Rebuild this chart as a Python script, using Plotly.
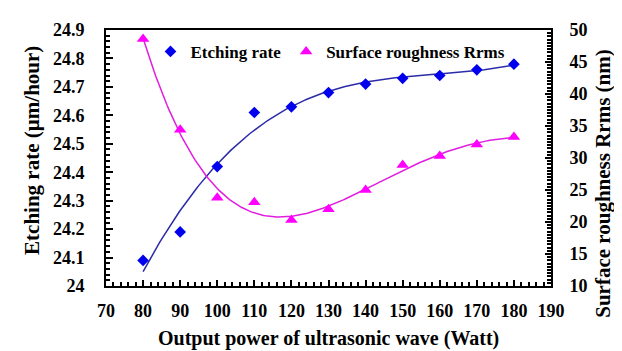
import numpy as np
import plotly.graph_objects as go

power = [80, 90, 100, 110, 120, 130, 140, 150, 160, 170, 180]
etching_rate = [24.09, 24.19, 24.42, 24.61, 24.63, 24.68, 24.71, 24.73, 24.74, 24.76, 24.78]
roughness = [48.6, 34.4, 23.8, 23.1, 20.3, 22.0, 25.0, 28.9, 30.3, 32.1, 33.3]

xs = np.linspace(80, 180, 201)
etch_fit = np.polyval(np.polyfit(power, etching_rate, 3), xs)
rough_fit = np.polyval(np.polyfit(power, roughness, 4), xs)

FONT = "Liberation Serif"
fig = go.Figure()
fig.add_trace(go.Scatter(x=xs, y=etch_fit, mode="lines", line=dict(color="#2b2ba8", width=1.5),
                         showlegend=False, hoverinfo="skip"))
fig.add_trace(go.Scatter(x=xs, y=rough_fit, mode="lines", line=dict(color="#e01ee0", width=1.5),
                         showlegend=False, hoverinfo="skip", yaxis="y2"))
fig.add_trace(go.Scatter(x=power, y=etching_rate, mode="markers", name="Etching rate",
                         marker=dict(symbol="diamond", size=9, color="#0000ee")))
fig.add_trace(go.Scatter(x=power, y=roughness, mode="markers", name="Surface roughness Rrms",
                         marker=dict(symbol="triangle-up", size=11, color="#ff00ff"), yaxis="y2"))

tickfont = dict(family=FONT, size=18, color="black", weight="bold")
fig.update_layout(
    width=622, height=351,
    margin=dict(l=98, r=79, t=15, b=73),
    paper_bgcolor="white", plot_bgcolor="white",
    font=dict(family=FONT, color="black"),
    xaxis=dict(range=[70, 190], dtick=10, showline=True, linecolor="black", linewidth=2,
               mirror=True, ticks="inside", ticklen=6, tickwidth=1.5, tickcolor="black",
               minor=dict(dtick=2, ticks="inside", ticklen=4, tickcolor="black"),
               showgrid=False, zeroline=False, tickfont=tickfont, ticklabelstandoff=7),
    yaxis=dict(range=[24, 24.9], dtick=0.1, showline=True, linecolor="black", linewidth=2,
               ticks="inside", ticklen=7, tickwidth=1.5, tickcolor="black",
               minor=dict(dtick=0.02, ticks="inside", ticklen=4, tickcolor="black"),
               showgrid=False, zeroline=False, tickfont=tickfont, ticklabelstandoff=16),
    yaxis2=dict(range=[10, 50], dtick=5, overlaying="y", side="right", showline=True,
                linecolor="black", linewidth=2, ticks="inside", ticklen=6, tickwidth=1.5,
                tickcolor="black",
                minor=dict(dtick=0.5, ticks="inside", ticklen=4, tickcolor="black"),
                showgrid=False, zeroline=False, tickfont=tickfont, ticklabelstandoff=13),
    legend=dict(orientation="h", x=0.10, y=0.985, xanchor="left", yanchor="top",
                bgcolor="rgba(0,0,0,0)", font=dict(family=FONT, size=17, color="black", weight="bold"),
                itemwidth=30),
    annotations=[
        dict(text="<b>Output power of ultrasonic wave (Watt)</b>", xref="paper", yref="paper",
             x=0.5, y=-0.205, xanchor="center", yanchor="middle", showarrow=False,
             font=dict(family=FONT, size=20, color="black")),
        dict(text="<b>Etching rate (µm/hour)</b>", xref="paper", yref="paper",
             x=-0.165, y=0.53, xanchor="center", yanchor="middle", showarrow=False, textangle=-90,
             font=dict(family=FONT, size=21, color="black")),
        dict(text="<b>Surface roughness Rrms (nm)</b>", xref="paper", yref="paper",
             x=1.115, y=0.40, xanchor="center", yanchor="middle", showarrow=False, textangle=-90,
             font=dict(family=FONT, size=21, color="black")),
    ],
)
fig.write_html("out.html")
